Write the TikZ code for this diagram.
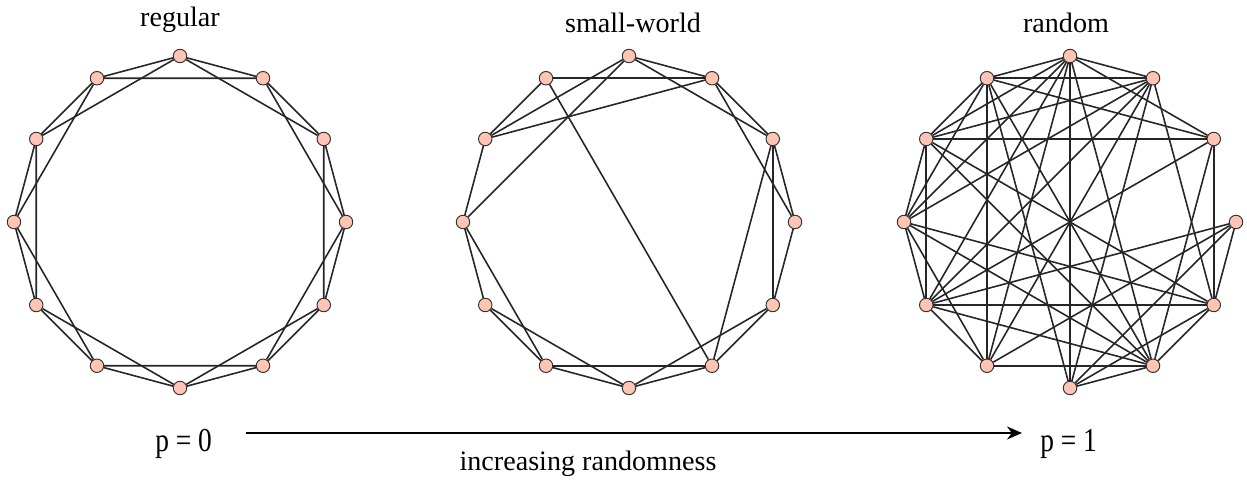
\documentclass[tikz,border=0pt]{standalone}
\usepackage{fontspec}
\setmainfont{Liberation Serif}
\usetikzlibrary{arrows.meta,positioning,calc}
\definecolor{vfill}{RGB}{255,197,180}
\tikzset{
  vtx/.style={draw=black!80, fill=vfill, circle, minimum size=0.27cm, inner sep=0pt, line width=0.55pt},
  edg/.style={draw=black!85, line width=0.9pt},
  ttl/.style={font=\fontsize{16}{19}\selectfont, anchor=base, inner sep=0pt},
  plab/.style={font=\fontsize{19}{22}\selectfont, anchor=base west, inner sep=0pt},
  arr/.style={-{Stealth[length=3mm, width=2.6mm]}, line width=1.1pt},
}

\begin{document}
\begin{tikzpicture}
\useasboundingbox (0,0) rectangle (24.94,9.64);

% centres of the three rings
\coordinate (rc) at (3.6,5.2);
\coordinate (sc) at (12.58,5.2);
\coordinate (gc) at (21.4,5.2);

\node[ttl] (treg) at (3.6,9.1) {regular};
\node[ttl] (tsw) at (12.66,8.98) {small-world};
\node[ttl] (trnd) at (21.32,8.98) {random};

% vertices
\foreach \i in {0,...,11} {
  \node[vtx] (r\i) at ($(rc)+({90-30*\i}:3.32)$) {};
  \node[vtx] (s\i) at ($(sc)+({90-30*\i}:3.32)$) {};
  \node[vtx] (g\i) at ($(gc)+({90-30*\i}:3.32)$) {};
}

% regular ring lattice
\foreach \i [evaluate=\i as \j using {int(mod(\i+1,12))},
             evaluate=\i as \k using {int(mod(\i+2,12))}] in {0,...,11}
  \draw[edg] (r\i) -- (r\j) (r\i) -- (r\k);

% small-world
\foreach \a/\b in {0/1,1/2,2/3,3/4,4/5,5/6,6/7,7/8,8/9,9/10,10/11,
                   0/2,1/3,2/4,4/6,5/7,6/8,7/9,10/0,11/1,
                   0/9,1/10,11/5,2/5}
  \draw[edg] (s\a) -- (s\b);

% random
\foreach \a/\b in {0/11,0/1,0/2,0/10,0/9,0/8,0/7,0/6,0/5,
                   1/11,1/10,1/9,1/8,1/7,1/6,1/4,
                   2/11,2/10,2/4,2/5,2/8,
                   3/4,3/6,3/7,3/8,
                   4/8,4/5,4/6,4/10,4/9,
                   5/7,5/6,5/11,5/10,5/9,5/8,
                   6/11,7/11,7/8,7/9,8/10,8/9,9/10,9/11,10/11}
  \draw[edg] (g\a) -- (g\b);

% axis
\node[plab] (p0) at (3.1,0.62) {\scalebox{0.82}[1]{p = 0}};
\node[plab] (p1) at (20.8,0.62) {\scalebox{0.82}[1]{p = 1}};
\draw[arr, shorten <=0.67cm, shorten >=0.36cm]
  ([yshift=0.36cm]p0.base east) -- ([yshift=0.36cm]p1.base west);
\node[ttl] (inc) at (11.76,0.24) {increasing randomness};

\end{tikzpicture}
\end{document}
